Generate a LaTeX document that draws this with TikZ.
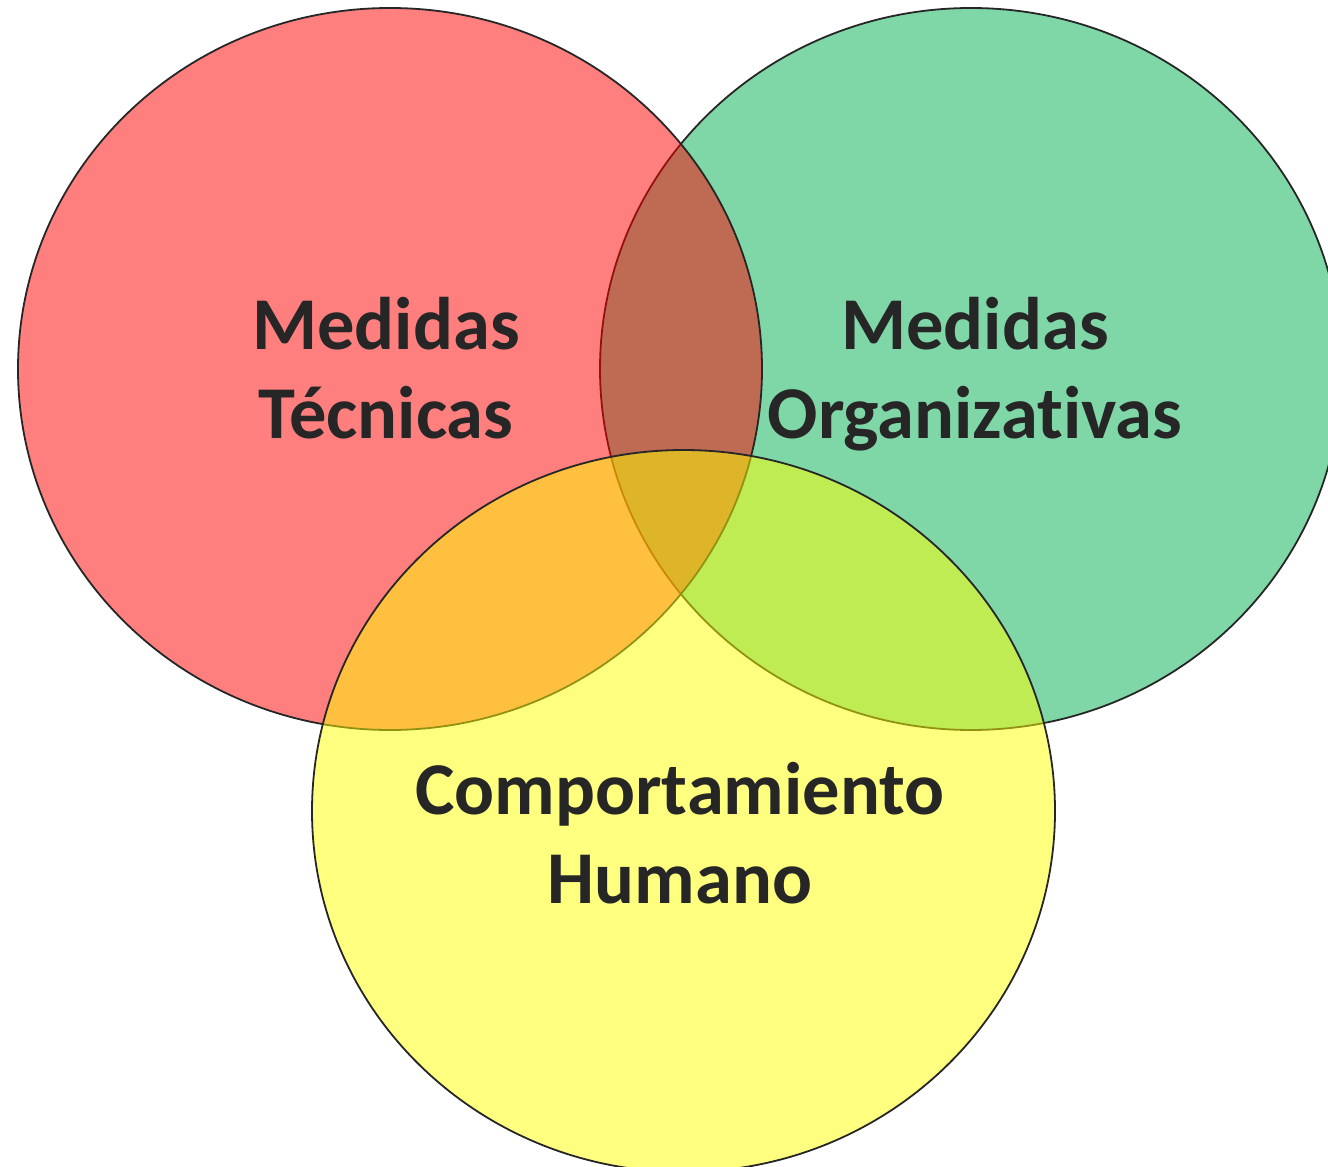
\documentclass[tikz,border=0pt]{standalone}
\usepackage{fontspec}
\setmainfont{Carlito}[Ligatures={NoCommon,NoRare}]
\definecolor{vRed}{HTML}{FF0000}
\definecolor{vGreen}{HTML}{00B050}
\definecolor{vYellow}{HTML}{FFFF00}
\definecolor{vInk}{HTML}{262626}

\begin{document}
\begin{tikzpicture}[x=0.5pt,y=0.5pt,yscale=-1,xscale=1,
  circ/.style={draw=vInk,line width=0.9pt,fill opacity=0.5},
  lbl/.style={text=vInk,align=center,inner sep=0pt,
    font=\fontsize{37.25}{44.5}\selectfont\bfseries}]
%set diagram size 1328 x 1167
\useasboundingbox (0,0) rectangle (1328,1167);

%Shape: Ellipse, organizativas
\draw [circ,fill=vGreen] (971,369) ellipse (371 and 361);
%Shape: Ellipse, tecnicas
\draw [circ,fill=vRed] (390,369) ellipse (372 and 361);
%Shape: Ellipse, humano
\draw [circ,fill=vYellow] (683.5,811) ellipse (371.5 and 361);

% Text Node (base = last line)
\node [lbl,anchor=base] (tecnicas) at (386,438) {Medidas\\Técnicas};
% Text Node
\node [lbl,anchor=base] (organizativas) at (975,438) {Medidas\\Organizativas};
% Text Node
\node [lbl,anchor=base] (humano) at (680,903) {Comportamiento\\Humano};

\end{tikzpicture}
\end{document}
